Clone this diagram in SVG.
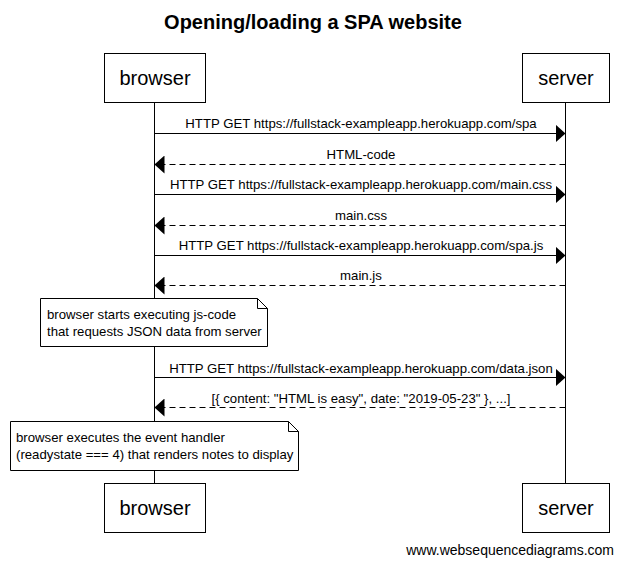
<svg xmlns="http://www.w3.org/2000/svg" width="623" height="566" viewBox="0 0 623 566">
<style>
text{font-family:"Liberation Sans",Arial,sans-serif;fill:#000}
.actor rect{fill:#fff;stroke:#000;stroke-width:1}
.actor text{font-size:20px;text-anchor:middle}
.life{stroke:#000;stroke-width:1}
.msg{stroke:#000;stroke-width:1;fill:none}
.dash{stroke-dasharray:6,4}
.lbl{font-size:13.2px;text-anchor:middle}
.note path{fill:#fff;stroke:#000;stroke-width:1}
.note text{font-size:13.2px}
</style>
<defs>
<marker id="ah" viewBox="0 0 10 18" refX="10" refY="9" markerWidth="10" markerHeight="18" markerUnits="userSpaceOnUse" orient="auto">
<path d="M0,0 L10,9 L0,18 Z" fill="#000"/>
</marker>
</defs>
<rect width="623" height="566" fill="#fff"/>
<text x="313" y="29" font-size="20" font-weight="bold" text-anchor="middle">Opening/loading a SPA website</text>
<g id="lifelines">
<line class="life" x1="154.5" y1="102" x2="154.5" y2="484"/>
<line class="life" x1="565.5" y1="102" x2="565.5" y2="484"/>
</g>
<g id="browser" class="actor">
<rect x="104.5" y="53.5" width="101" height="49"/>
<text x="155" y="85">browser</text>
</g>
<g id="server" class="actor">
<rect x="522.5" y="53.5" width="87" height="49"/>
<text x="566" y="85">server</text>
</g>
<g id="browser-bottom" class="actor">
<rect x="104.5" y="483.5" width="101" height="49"/>
<text x="155" y="515">browser</text>
</g>
<g id="server-bottom" class="actor">
<rect x="522.5" y="483.5" width="87" height="49"/>
<text x="566" y="515">server</text>
</g>
<g id="connectors">
<line class="msg" x1="154.5" y1="133.5" x2="565.5" y2="133.5" marker-end="url(#ah)"/>
<text class="lbl" x="361" y="128">HTTP GET https://fullstack-exampleapp.herokuapp.com/spa</text>
<line class="msg dash" x1="565.5" y1="164.5" x2="154.5" y2="164.5" marker-end="url(#ah)"/>
<text class="lbl" x="361" y="159">HTML-code</text>
<line class="msg" x1="154.5" y1="194.5" x2="565.5" y2="194.5" marker-end="url(#ah)"/>
<text class="lbl" x="361" y="189">HTTP GET https://fullstack-exampleapp.herokuapp.com/main.css</text>
<line class="msg dash" x1="565.5" y1="225.5" x2="154.5" y2="225.5" marker-end="url(#ah)"/>
<text class="lbl" x="361" y="220">main.css</text>
<line class="msg" x1="154.5" y1="255.5" x2="565.5" y2="255.5" marker-end="url(#ah)"/>
<text class="lbl" x="361" y="250">HTTP GET https://fullstack-exampleapp.herokuapp.com/spa.js</text>
<line class="msg dash" x1="565.5" y1="285.5" x2="154.5" y2="285.5" marker-end="url(#ah)"/>
<text class="lbl" x="361" y="280">main.js</text>
<line class="msg" x1="154.5" y1="377.5" x2="565.5" y2="377.5" marker-end="url(#ah)"/>
<text class="lbl" x="361" y="373">HTTP GET https://fullstack-exampleapp.herokuapp.com/data.json</text>
<line class="msg dash" x1="565.5" y1="407.5" x2="154.5" y2="407.5" marker-end="url(#ah)"/>
<text class="lbl" x="361" y="403">[{ content: "HTML is easy", date: "2019-05-23" }, ...]</text>
</g>
<g id="note1" class="note">
<path d="M40.5,298.5 H257.5 L267.5,308.5 V346.5 H40.5 Z M257.5,298.5 V308.5 H267.5"/>
<text x="47" y="319">browser starts executing js-code</text>
<text x="47" y="336">that requests JSON data from server</text>
</g>
<g id="note2" class="note">
<path d="M10.5,421.5 H288.5 L298.5,431.5 V470.5 H10.5 Z M288.5,421.5 V431.5 H298.5"/>
<text x="16" y="442">browser executes the event handler</text>
<text x="16" y="459">(readystate === 4) that renders notes to display</text>
</g>
<text x="614" y="555" font-size="14" text-anchor="end">www.websequencediagrams.com</text>
</svg>
